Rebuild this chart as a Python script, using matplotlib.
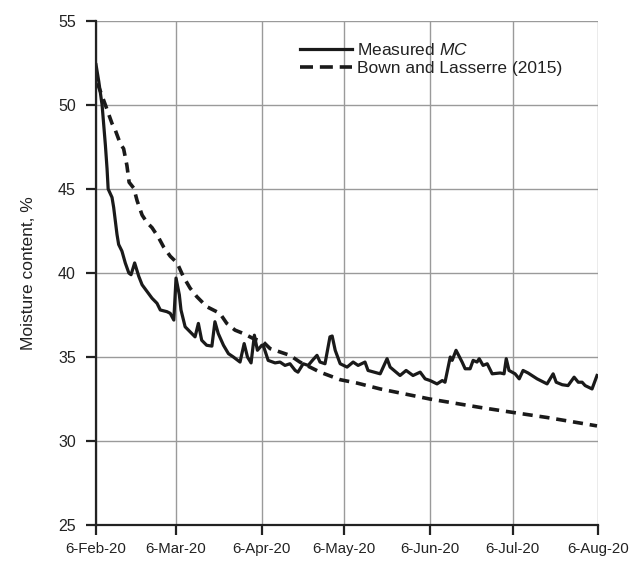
# moisture_content_plot.py
# Measured moisture content vs. Bown and Lasserre (2015) prediction

import matplotlib

matplotlib.use("Agg")
import matplotlib.dates as mdates
import matplotlib.pyplot as plt
import numpy as np
import pandas as pd

plt.rcParams["font.family"] = ["Liberation Sans", "DejaVu Sans"]
plt.rcParams["mathtext.fontset"] = "custom"
plt.rcParams["mathtext.it"] = "Liberation Sans:italic"

START = pd.Timestamp("2020-02-06")

# Measured MC, days after 6-Feb-20 and moisture content (%)
mc_day = [0, 1, 2.2, 3.4, 4, 4.4, 5.8, 6.4, 7.6, 8.2, 9.4, 10.6, 11.9, 12.7,
          14, 15.5, 16.7, 18.5, 20.3, 22.1, 23.3, 25.7, 26.9, 28.2, 29, 30.2,
          30.8, 32.3, 34.1, 35.9, 37.1, 38.3, 40.1, 42, 43.1, 44.3, 46.2, 48,
          49.8, 52.2, 53.7, 54.9, 56.2, 57.4, 58.5, 60.1, 60.6, 62.4, 64.9,
          66.7, 68.5, 70.3, 72.2, 73.2, 75.1, 76.9, 78.7, 80.1, 81.2, 83,
          84.8, 85.6, 86.7, 88.5, 91, 93.2, 95, 97.5, 98.6, 103, 105.5, 106.6,
          110.2, 112.4, 114.9, 117.5, 119.3, 121.1, 123.6, 125.5, 126.5,
          128.4, 129.1, 130.5, 132.7, 133.8, 135.6, 136.7, 138.1, 138.9,
          140.3, 141.8, 143.6, 146.5, 147.9, 148.7, 149.7, 151.9, 153.4,
          154.8, 156.6, 159.9, 163.5, 165.7, 166.8, 169, 171.1, 173.3, 174.8,
          176.2, 177.3, 179.8, 181.6]
mc_value = [52.4, 51.4, 50.0, 47.6, 46.2, 45.0, 44.5, 43.9, 42.3, 41.7, 41.3,
            40.6, 40.0, 39.9, 40.6, 39.8, 39.3, 38.9, 38.5, 38.2, 37.8, 37.7,
            37.6, 37.2, 39.7, 38.7, 37.8, 36.8, 36.5, 36.2, 37.0, 36.0, 35.7,
            35.65, 37.1, 36.4, 35.7, 35.2, 35.0, 34.7, 35.8, 35.0, 34.65,
            36.3, 35.4, 35.7, 35.7, 34.8, 34.65, 34.7, 34.5, 34.6, 34.2, 34.1,
            34.6, 34.5, 34.85, 35.1, 34.7, 34.6, 36.2, 36.25, 35.4, 34.6,
            34.4, 34.7, 34.5, 34.7, 34.2, 34.0, 34.9, 34.4, 33.9, 34.2, 33.9,
            34.1, 33.7, 33.6, 33.4, 33.6, 33.5, 35.0, 34.8, 35.4, 34.7, 34.3,
            34.3, 34.8, 34.7, 34.9, 34.5, 34.6, 34.0, 34.05, 34.0, 34.9, 34.2,
            34.0, 33.7, 34.2, 34.05, 33.7, 33.4, 34.0, 33.5, 33.35, 33.3, 33.8,
            33.5, 33.5, 33.3, 33.1, 33.9]

# Bown and Lasserre (2015) model
bl_day = [0.5, 3.4, 5.8, 7.0, 8.8, 10.0, 11.2, 12.0, 13.7, 14.9, 16.7, 18.5,
          20.3, 22.7, 24.5, 26.9, 29.4, 31.6, 34.1, 36.5, 40.1, 42.5, 44.9,
          47.4, 50.4, 53.4, 57.0, 60.6, 63.1, 66.7, 70.3, 73.9, 81.2, 88.5,
          94.6, 103, 121, 139.2, 151.2, 163.5, 181.6]
bl_value = [51.3, 50.0, 48.9, 48.5, 47.7, 47.4, 46.4, 45.4, 45.05, 44.3,
            43.45, 43.0, 42.7, 42.1, 41.55, 41.0, 40.6, 39.8, 39.1, 38.6,
            38.0, 37.8, 37.6, 37.0, 36.6, 36.4, 36.1, 35.9, 35.5, 35.3, 35.1,
            34.7, 34.1, 33.65, 33.45, 33.1, 32.5, 32.0, 31.7, 31.4, 30.9]


def day_to_date(days):
    return START + pd.to_timedelta(np.asarray(days), unit="D")


def date_label(x, pos=None):
    d = mdates.num2date(x)
    return f"{d.day}-{d:%b-%y}"


def main():
    fig = plt.figure(figsize=(6.41, 5.62), dpi=100)
    ax = fig.add_axes([0.1498, 0.0658, 0.7833, 0.8968])

    ax.plot(day_to_date(mc_day), mc_value, color="#1a1a1a", lw=2.3,
            label="Measured $\\it{MC}$")
    ax.plot(day_to_date(bl_day), bl_value, color="#1a1a1a", lw=2.6,
            dashes=(2.8, 1.9), label="Bown and Lasserre (2015)")

    ax.set_ylim(25, 55)
    ax.set_yticks(range(25, 56, 5))
    ax.set_xlim(START, pd.Timestamp("2020-08-06"))
    ax.xaxis.set_major_locator(mdates.MonthLocator(bymonthday=6))
    ax.xaxis.set_major_formatter(plt.FuncFormatter(date_label))

    ax.grid(True, color="#9a9a9a", lw=1)
    ax.set_axisbelow(True)
    for side in ("top", "right"):
        ax.spines[side].set_visible(False)
    for side in ("left", "bottom"):
        ax.spines[side].set_linewidth(1.6)
        ax.spines[side].set_color("#222222")
    ax.tick_params(axis="x", direction="out", length=7, width=1.6,
                   labelsize=10.8, pad=5, colors="#222222")
    ax.tick_params(axis="y", direction="out", length=7, width=1.6,
                   labelsize=11.5, pad=7.5, colors="#222222")
    ax.set_ylabel("Moisture content, %", fontsize=12.5, color="#222222",
                  labelpad=16)

    leg = ax.legend(loc="upper left", bbox_to_anchor=(0.375, 0.99),
                    frameon=False, fontsize=12.5, handlelength=3.0,
                    handletextpad=0.3, labelspacing=0.2)
    for t in leg.get_texts():
        t.set_color("#222222")
    leg.get_lines()[1].set_dashes((3.6, 1.9))

    fig.savefig("out.png", dpi=100, facecolor="white")


if __name__ == "__main__":
    main()
